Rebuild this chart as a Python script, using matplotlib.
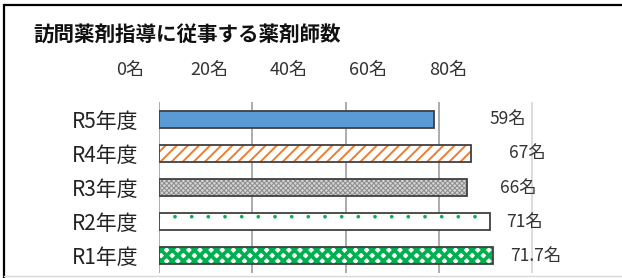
import matplotlib
matplotlib.use('Agg')
import matplotlib.pyplot as plt
from matplotlib.patches import Rectangle
from matplotlib.lines import Line2D

plt.rcParams['font.family'] = ['Noto Sans CJK JP', 'DejaVu Sans']
plt.rcParams['hatch.linewidth'] = 1.2

title = '訪問薬剤指導に従事する薬剤師数'
years = ['R5年度', 'R4年度', 'R3年度', 'R2年度', 'R1年度']
counts = [59, 67, 66, 71, 71.7]
count_text = ['59名', '67名', '66名', '71名', '71.7名']
ticks = [0, 20, 40, 60, 80]
tick_text = ['0名', '20名', '40名', '60名', '80名']

# label x positions (data units) as placed in the original
label_x = [70.8, 75.1, 73.2, 74.4, 75.3]

# fill styles: (face, hatch, hatch colour, hatch width)
styles = [
    ('#5b9bd5', None, None, 0),
    ('white', '///', '#ed7d31', 1.4),
    ('#d4d4d4', 'xxxxxxx', '#8c8c8c', 0.7),
    ('white', '.', '#00b050', 0.2),
    ('white', 'xxx', '#00b050', 2.6),
]

W, H = 622, 278
fig = plt.figure(figsize=(W / 100, H / 100), dpi=100)

# outer frame (top + left black, bottom faint)
fig.patches.append(Rectangle((4 / W, -0.1), 1.1, 1.1 - 5 / H, transform=fig.transFigure,
                             fill=False, edgecolor='black', linewidth=1.6))
fig.lines.append(Line2D([4 / W, 1], [2 / H, 2 / H], transform=fig.transFigure,
                        color='#d9d9d9', linewidth=1))

ax = fig.add_axes([159 / W, 1 - 273 / H, (533 - 159) / W, (273 - 102) / H])
ypos = list(range(len(years)))
for i, (face, hatch, hcol, hlw) in enumerate(styles):
    if hatch is None:
        ax.barh(ypos[i], counts[i], height=0.5, color=face, edgecolor='#404040',
                linewidth=1.3, zorder=3)
    else:
        bars = ax.barh(ypos[i], counts[i], height=0.5, color=face, edgecolor=hcol,
                       hatch=hatch, linewidth=0, zorder=3)
        for b in bars:
            if hasattr(b, 'set_hatch_linewidth'):
                b.set_hatch_linewidth(hlw)
        ax.barh(ypos[i], counts[i], height=0.5, fill=False, edgecolor='#404040',
                linewidth=1.3, zorder=4)
    ax.text(label_x[i], ypos[i], count_text[i], va='center', ha='left',
            fontsize=12.5, color='#333333')

ax.set_xlim(0, 80.2)
ax.set_ylim(4.5, -0.5)
ax.set_yticks(ypos)
ax.set_yticklabels(years, fontsize=15, color='#222222')
ax.set_xticks(ticks)
ax.tick_params(axis='x', length=0, labelbottom=False)
ax.tick_params(axis='y', length=0, pad=15)
ax.grid(axis='x', color='#a6a6a6', linewidth=1.3, zorder=0)
ax.get_xgridlines()[-1].set_color('#d9d9d9')
for s in ax.spines.values():
    s.set_visible(False)

# the value axis labels sit above the chart on their own scale
ax_top = fig.add_axes([130 / W, 1 - 79 / H, (448 - 130) / W, 0.001])
ax_top.set_xlim(0, 80)
ax_top.set_xticks(ticks)
ax_top.set_xticklabels(tick_text, fontsize=13, color='#333333')
ax_top.xaxis.tick_top()
ax_top.tick_params(axis='x', length=0, pad=0)
ax_top.set_yticks([])
for s in ax_top.spines.values():
    s.set_visible(False)
ax_top.patch.set_visible(False)

fig.text(33 / W, 1 - 35 / H, title, fontsize=14.8, fontweight='bold',
         va='center', ha='left', color='#111111')

fig.savefig('out.png', dpi=100)
